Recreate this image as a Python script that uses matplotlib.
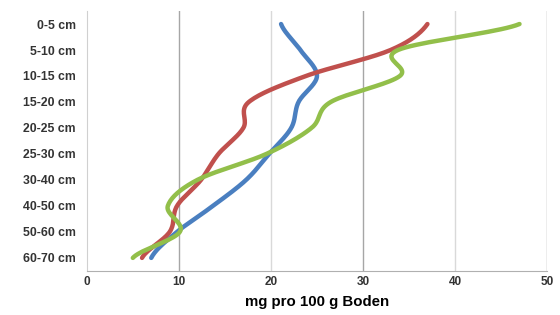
import numpy as np
import matplotlib
matplotlib.use("Agg")
import matplotlib.pyplot as plt

plt.rcParams['font.family'] = ['Liberation Sans', 'DejaVu Sans']

depths = ["0-5 cm", "5-10 cm", "10-15 cm", "15-20 cm", "20-25 cm",
          "25-30 cm", "30-40 cm", "40-50 cm", "50-60 cm", "60-70 cm"]
blue_vals = [21.1, 23.2, 25.0, 23.0, 22.2, 19.8, 17.3, 13.7, 9.8, 7.0]
red_vals = [37.0, 33.0, 23.8, 17.6, 17.0, 14.3, 12.4, 9.8, 9.0, 6.0]
green_vals = [47.0, 33.8, 34.0, 26.5, 24.4, 19.5, 12.0, 8.8, 10.1, 5.0]

colors = {"blue": "#4A7FC0", "red": "#C0504D", "green": "#92BF4A"}


def smooth(vals, n=20):
    # catmull-rom style smoothing like excel's smoothed lines
    v = np.asarray(vals, dtype=float)
    p = np.concatenate([[v[0]], v, [v[-1]]])
    ts, xs = [], []
    for i in range(len(v) - 1):
        p0, p1, p2, p3 = p[i], p[i + 1], p[i + 2], p[i + 3]
        t = np.linspace(0, 1, n, endpoint=False)
        x = 0.5 * ((2 * p1) + (-p0 + p2) * t + (2 * p0 - 5 * p1 + 4 * p2 - p3) * t ** 2
                   + (-p0 + 3 * p1 - 3 * p2 + p3) * t ** 3)
        ts.append(i + t)
        xs.append(x)
    ts.append([len(v) - 1])
    xs.append([v[-1]])
    return np.concatenate(xs), np.concatenate(ts)


fig = plt.figure(figsize=(5.6, 3.15), dpi=100)
ax = fig.add_axes([0.155, 0.14, 0.822, 0.825])

for key, vals in [("blue", blue_vals), ("red", red_vals), ("green", green_vals)]:
    x, y = smooth(vals)
    ax.plot(x, y, color=colors[key], lw=3.2, solid_capstyle="round")

ax.set_xlim(0, 50)
ax.set_ylim(len(depths) - 0.5, -0.5)
ax.set_yticks(range(len(depths)))
ax.set_yticklabels(depths, fontsize=8.8, fontweight="bold", color="#333333")
ax.set_xticks([0, 10, 20, 30, 40, 50])
ax.tick_params(axis="x", labelsize=8.5, colors="#333333", length=0, pad=4)
ax.tick_params(axis="y", length=0, pad=8)
for lab in ax.get_xticklabels():
    lab.set_fontweight("bold")

for xv, c in [(10, "#a6a6a6"), (20, "#d9d9d9"), (30, "#a6a6a6"), (40, "#d9d9d9"), (50, "#a6a6a6")]:
    ax.axvline(xv, color=c, lw=1, zorder=0)

for s in ["top", "right"]:
    ax.spines[s].set_visible(False)
ax.spines["left"].set_color("#d0d0d0")
ax.spines["bottom"].set_color("#b0b0b0")

ax.set_xlabel("mg pro 100 g Boden", fontsize=10.8, fontweight="bold", labelpad=5)

fig.savefig("out.png", dpi=100)
